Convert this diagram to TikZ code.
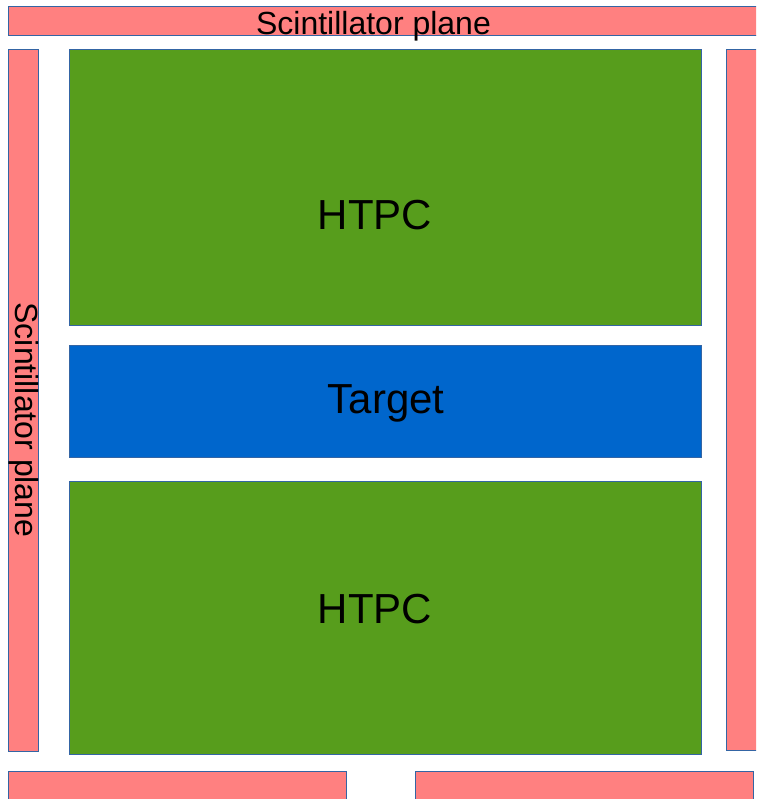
\documentclass[tikz,border=0pt]{standalone}
\usepackage{fontspec}
\setmainfont{Liberation Sans}
\definecolor{scint}{HTML}{FF8080}
\definecolor{htpc}{HTML}{579D1C}
\definecolor{targ}{HTML}{0066CC}
\definecolor{edge}{HTML}{3465A4}
\tikzset{
  box/.style={draw=edge, line width=1pt, inner sep=0pt, outer sep=0pt, rectangle},
  scintbox/.style={box, fill=scint},
  htpcbox/.style={box, fill=htpc},
  targbox/.style={box, fill=targ},
  lab/.style={inner sep=0pt, anchor=base, text=black},
  bigfont/.style={font=\fontsize{42}{50}\selectfont},
  smallfont/.style={font=\fontsize{32}{38}\selectfont}
}
\begin{document}
\begin{tikzpicture}[x=1pt,y=-1pt]
\useasboundingbox (0,0) rectangle (756,799);
\clip (0,0) rectangle (756,799);
\fill[white] (0,0) rectangle (756,799);
% scintillator bars
\node[scintbox, minimum width=762pt, minimum height=29pt] (topbar) at (389,21.5) {};
\node[scintbox, minimum width=30pt, minimum height=701pt] (leftbar) at (23,400.5) {};
\node[scintbox, minimum width=44pt, minimum height=700pt] (rightbar) at (748,400) {};
\node[scintbox, minimum width=338pt, minimum height=39pt] (botleft) at (177,790.5) {};
\node[scintbox, minimum width=338pt, minimum height=39pt] (botright) at (584,790.5) {};
% detector
\node[htpcbox, minimum width=632pt, minimum height=275pt] (htpctop) at (385,187.5) {};
\node[targbox, minimum width=632pt, minimum height=112pt] (target) at (385,401) {};
\node[htpcbox, minimum width=632pt, minimum height=273pt] (htpcbot) at (385,617.5) {};
% labels
\node[lab, smallfont] (toplab) at (373.5,35) {Scintillator plane};
\node[lab, smallfont, rotate=-90] (leftlab) at (15,420) {Scintillator plane};
\node[lab, bigfont] (htpctoplab) at (375,230) {HTPC};
\node[lab, bigfont] (targlab) at (386,413) {Target};
\node[lab, bigfont] (htpcbotlab) at (375,623) {HTPC};
\end{tikzpicture}
\end{document}
